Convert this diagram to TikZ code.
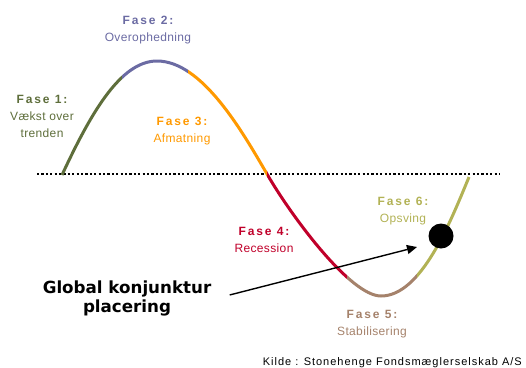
\documentclass[tikz,border=0pt]{standalone}
\usepackage{fontspec}
\setmainfont{Liberation Sans}
\newfontfamily\globfont{DejaVu Sans}
\usepackage{tikz}
\usetikzlibrary{arrows.meta}

\definecolor{faseA}{HTML}{5E6E3B}
\definecolor{faseB}{HTML}{6B6BA3}
\definecolor{faseC}{HTML}{FF9900}
\definecolor{faseD}{HTML}{C0002A}
\definecolor{faseE}{HTML}{A5826B}
\definecolor{faseF}{HTML}{B2B255}

\newcommand{\fasehead}[1]{{\bfseries\addfontfeature{LetterSpace=16}Fase #1:}}
\newcommand{\konjpath}{(62,175) .. controls (90,115) and (120,61) .. (157,61)
  .. controls (202,61) and (242,131) .. (267,174)
  .. controls (290,214) and (350,296) .. (381,296)
  .. controls (421,296) and (450,223) .. (469,177)}

\begin{document}
\begin{tikzpicture}[x=1pt, y=-1pt,
    wave/.style={line width=3pt},
    trend/.style={line width=2.4pt, dash pattern=on 2.2pt off 2.2pt},
    fase/.style={align=center, anchor=base, font=\fontsize{12}{16.8}\selectfont\addfontfeature{LetterSpace=3}},
    pointer/.style={-{Triangle[length=10pt, width=9pt]}, line width=1.4pt},
    marker/.style={circle, fill=black, minimum size=25pt, inner sep=0pt}
]
\useasboundingbox (0,0) rectangle (526,367);

\draw[trend] (37,174) -- (500,174);

\foreach \xa/\xb/\col in {40/122/faseA, 122/188/faseB, 188/267/faseC, 267/347/faseD, 347/417/faseE, 417/490/faseF} {
  \begin{scope}
    \clip (\xa,0) rectangle (\xb,367);
    \draw[wave, \col] \konjpath;
  \end{scope}
}

\node[fase, text=faseA] (fase1) at (42,137) {\fasehead{1}\\V\ae kst over\\trenden};
\node[fase, text=faseB] (fase2) at (148,41) {\fasehead{2}\\Overophedning};
\node[fase, text=faseC] (fase3) at (182,142) {\fasehead{3}\\Afmatning};
\node[fase, text=faseD] (fase4) at (264,252) {\fasehead{4}\\Recession};
\node[fase, text=faseE] (fase5) at (372,335) {\fasehead{5}\\Stabilisering};
\node[fase, text=faseF] (fase6) at (403,222) {\fasehead{6}\\Opsving};

\node[marker] (dot) at (441,236) {};

\node[align=center, anchor=base, font=\globfont\bfseries\fontsize{16.7}{19}\selectfont] (glob) at (127,312) {Global konjunktur\\placering};
\coordinate (aim) at (417,247);
\draw[pointer] ([xshift=15pt, yshift=3pt]glob.east) -- (aim);

\node[anchor=base east, inner sep=0pt, font=\fontsize{11}{12}\selectfont\addfontfeature{LetterSpace=9}] (kilde) at (522,365) {Kilde : Stonehenge Fondsm\ae glerselskab A/S};

\end{tikzpicture}
\end{document}
